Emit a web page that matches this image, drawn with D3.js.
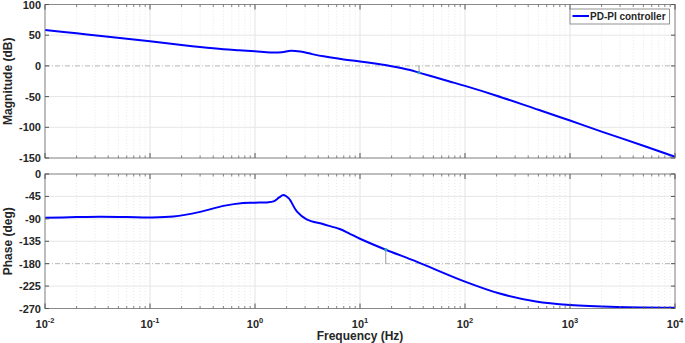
<!DOCTYPE html>
<html><head><meta charset="utf-8">
<script src="https://cdn.jsdelivr.net/npm/d3@7"></script>
<style>
body{margin:0;background:#fff;}
text{font-family:"Liberation Sans",Arial,sans-serif;font-weight:bold;fill:#262626;}
</style></head>
<body><svg id="c" width="685" height="343"></svg>
<script>
// ---- data ----
const seriesName = "PD-PI controller";
const magFreq = [0.01,0.02,0.04,0.1,0.2,0.3,0.5,0.7,1,1.4,1.8,2.2,2.7,3.5,4.5,7,10,15,20,30,37,50,70,100,200,500,1000,2000,5000,10000];
const magDb   = [58.5,53,47.4,40,34,30.8,27.3,25.6,23.9,22,22.4,24.7,23.3,19.2,15.6,10.6,7.3,3,-0.5,-6.8,-11.3,-17.8,-25,-32.5,-48.5,-71.5,-89,-107,-130,-148];
const phFreq  = [0.01,0.02,0.033,0.06,0.1,0.167,0.3,0.5,0.77,1.0,1.3,1.5,1.7,1.86,2.1,2.5,3.1,4.5,6.4,8,10,17.6,34.6,100,214,474,1000,2800,10000];
const phDeg   = [-88,-86.5,-85.8,-86.3,-87.3,-85.5,-76,-64,-58,-57.5,-57,-55,-47,-42,-49,-75,-91,-101,-110.5,-120,-130,-152,-176,-216,-240,-256,-263,-267,-268.5];
const gmMarker = {freq:36.5, value:-11};
const pmMarker = {freq:17.6, value:-152};
const xTickExp = [-2,-1,0,1,2,3,4];
const magTicks = [100,50,0,-50,-100,-150];
const phTicks  = [0,-45,-90,-135,-180,-225,-270];

// ---- layout ----
const svg = d3.select("#c");
const X0 = 45, X1 = 675;
const x = d3.scaleLog().domain([0.01,10000]).range([X0,X1]);
const yMag = d3.scaleLinear().domain([-150,100]).range([158,4.5]);
const yPh  = d3.scaleLinear().domain([-270,0]).range([308.5,174]);

const minorTicks = [];
for (let e=-2;e<4;e++) for (let m=2;m<=9;m++) minorTicks.push(m*Math.pow(10,e));
const majorTicks = xTickExp.map(e=>Math.pow(10,e));

function panel(y, ticks, refVal, data, label, marker){
  const [yb, yt] = y.range();
  const g = svg.append("g");
  g.selectAll(null).data(minorTicks).enter().append("line")
    .attr("x1",d=>x(d)).attr("x2",d=>x(d)).attr("y1",yt).attr("y2",yb)
    .attr("stroke","#d9d9d9").attr("stroke-width",0.6).attr("stroke-dasharray","1,2");
  g.selectAll(null).data(majorTicks).enter().append("line")
    .attr("x1",d=>x(d)).attr("x2",d=>x(d)).attr("y1",yt).attr("y2",yb)
    .attr("stroke","#e3e3e3").attr("stroke-width",1);
  g.selectAll(null).data(ticks.filter(t=>t!==refVal)).enter().append("line")
    .attr("x1",X0).attr("x2",X1).attr("y1",d=>y(d)).attr("y2",d=>y(d))
    .attr("stroke","#e6e6e6").attr("stroke-width",1);
  g.append("line").attr("x1",X0).attr("x2",X1).attr("y1",y(refVal)).attr("y2",y(refVal))
    .attr("stroke","#b5b5b5").attr("stroke-width",1).attr("stroke-dasharray","5,2,1,2");
  g.append("line").attr("x1",x(marker.freq)).attr("x2",x(marker.freq))
    .attr("y1",y(refVal)).attr("y2",y(marker.value)).attr("stroke","#9a9a9a").attr("stroke-width",1);
  const line = d3.line().x(d=>x(d[0])).y(d=>y(d[1])).curve(d3.curveCatmullRom.alpha(0.5));
  g.append("path").datum(data).attr("d",line).attr("fill","none")
    .attr("stroke","#0000ff").attr("stroke-width",2);
  g.append("circle").attr("cx",x(marker.freq)).attr("cy",y(marker.value)).attr("r",1.6)
    .attr("fill","#2a9fb0");
  g.append("rect").attr("x",X0).attr("y",yt).attr("width",X1-X0).attr("height",yb-yt)
    .attr("fill","none").attr("stroke","#8a8a8a").attr("stroke-width",1);
  [[yb,-1],[yt,1]].forEach(([yy,dir])=>{
    g.selectAll(null).data(majorTicks).enter().append("line")
      .attr("x1",d=>x(d)).attr("x2",d=>x(d)).attr("y1",yy).attr("y2",yy+dir*5)
      .attr("stroke","#555").attr("stroke-width",1);
    g.selectAll(null).data(minorTicks).enter().append("line")
      .attr("x1",d=>x(d)).attr("x2",d=>x(d)).attr("y1",yy).attr("y2",yy+dir*2.5)
      .attr("stroke","#666").attr("stroke-width",0.8);
  });
  [[X0,1],[X1,-1]].forEach(([xx,dir])=>{
    g.selectAll(null).data(ticks).enter().append("line")
      .attr("x1",xx).attr("x2",xx+dir*4).attr("y1",d=>y(d)).attr("y2",d=>y(d))
      .attr("stroke","#555").attr("stroke-width",1);
  });
  g.selectAll(null).data(ticks).enter().append("text")
    .attr("x",X0-4).attr("y",d=>y(d)+4).attr("text-anchor","end")
    .style("font-size","11px").text(d=>d);
  g.append("text").attr("transform",`translate(12,${(yt+yb)/2}) rotate(-90)`)
    .attr("text-anchor","middle").style("font-size","12px").text(label);
}

panel(yMag, magTicks, 0, magFreq.map((f,i)=>[f,magDb[i]]), "Magnitude (dB)", gmMarker);
panel(yPh, phTicks, -180, phFreq.map((f,i)=>[f,phDeg[i]]), "Phase (deg)", pmMarker);

const xl = svg.append("g");
xTickExp.forEach(e=>{
  const t = xl.append("text").attr("x",x(Math.pow(10,e))).attr("y",328).attr("text-anchor","middle")
    .style("font-size","11px");
  t.append("tspan").text("10");
  t.append("tspan").attr("dy",-5).style("font-size","7.5px").text(e);
});
svg.append("text").attr("x",(X0+X1)/2).attr("y",340).attr("text-anchor","middle")
  .style("font-size","12px").text("Frequency (Hz)");

const lg = svg.append("g");
lg.append("rect").attr("x",570).attr("y",9).attr("width",99.5).attr("height",15)
  .attr("fill","#fff").attr("stroke","#777").attr("stroke-width",0.8);
lg.append("line").attr("x1",572.5).attr("x2",589).attr("y1",16).attr("y2",16)
  .attr("stroke","#0000ff").attr("stroke-width",2);
lg.append("text").attr("x",590).attr("y",20).style("font-size","10px").text(seriesName);
</script></body></html>
